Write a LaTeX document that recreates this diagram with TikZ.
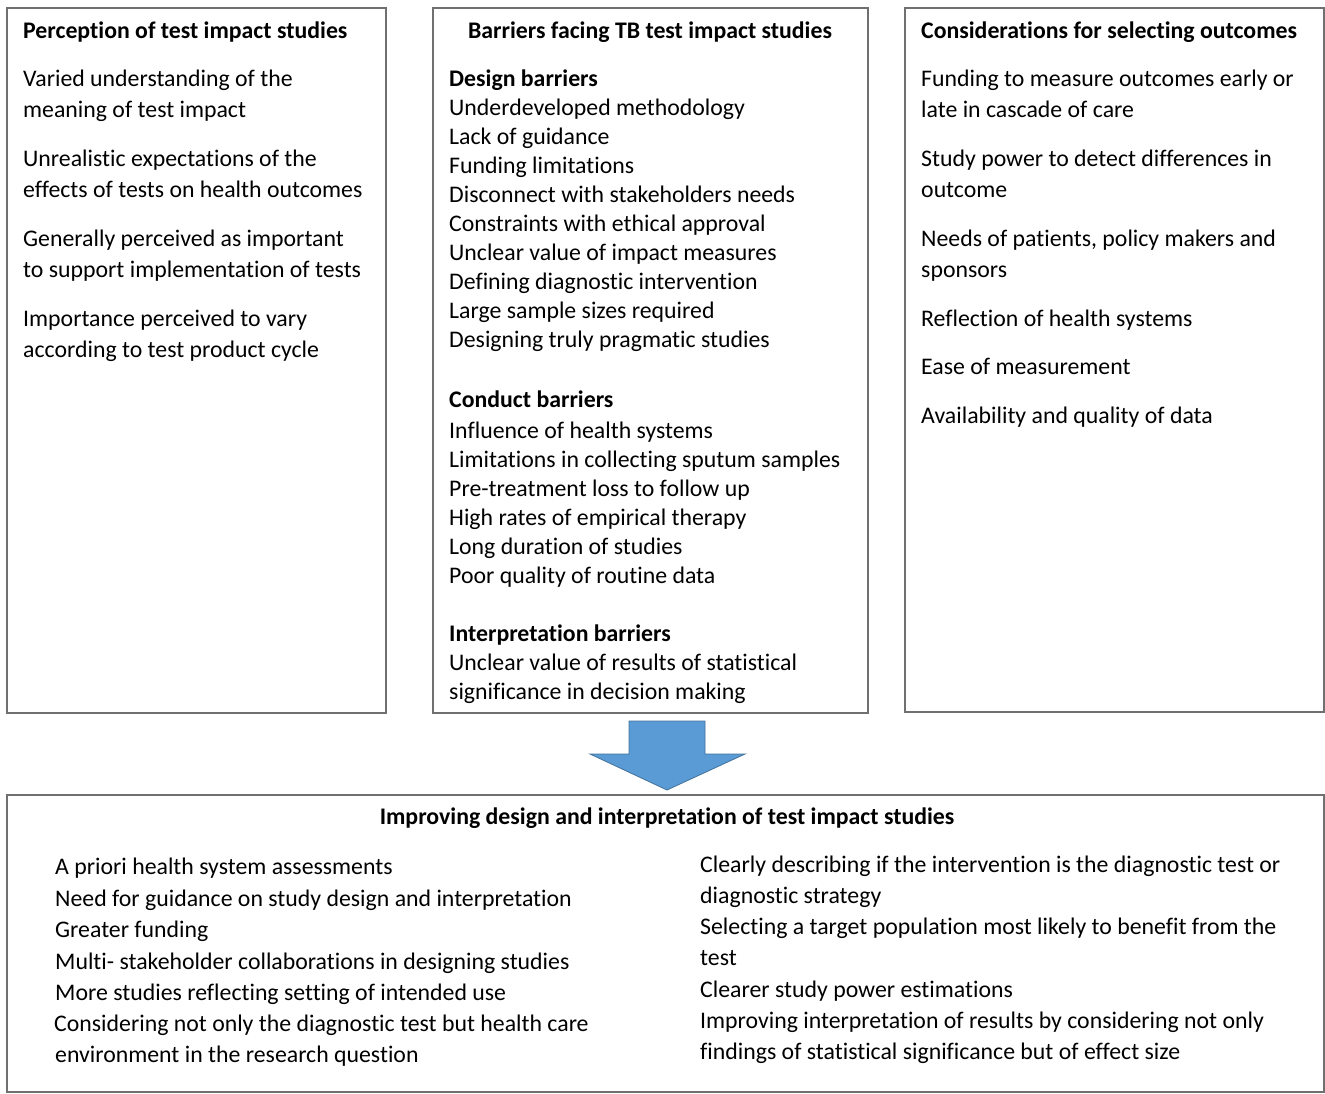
\documentclass[tikz,border=0pt]{standalone}
\usepackage{fontspec}
\setmainfont[Ligatures=NoCommon]{Carlito}
\definecolor{arrfill}{HTML}{5B9BD5}
\definecolor{arrline}{HTML}{41719C}
\definecolor{boxline}{HTML}{707070}
\begin{document}
\begin{tikzpicture}[x=1pt,y=-1pt,
  box/.style={draw=boxline,line width=1.2pt,inner sep=0pt},
  txt/.style={anchor=base west,inner sep=0pt,font=\fontsize{23.8}{28}\selectfont},
  hd/.style={txt,font=\fontsize{23.8}{28}\selectfont\bfseries},
  hdc/.style={anchor=base,inner sep=0pt,font=\fontsize{23.8}{28}\selectfont\bfseries}]
\useasboundingbox (0,0) rectangle (1325,1093);
% boxes
\node[box,minimum width=379pt,minimum height=705pt] (left) at (196.5,360.5) {};
\node[box,minimum width=435pt,minimum height=705pt] (mid) at (650.5,360.5) {};
\node[box,minimum width=419pt,minimum height=704pt] (right) at (1114.5,360) {};
\node[box,minimum width=1317pt,minimum height=297pt] (bottom) at (665.5,943.5) {};
% arrow
\draw[fill=arrfill,draw=arrline,line width=0.8pt] (629,721) -- (705,721) -- (705,754) -- (745,754) -- (667,790) -- (590,754) -- (629,754) -- cycle;
% left box
\node[hd] (l0) at (23,38) {Perception of test impact studies};
\node[txt] (l1) at (23,86) {Varied understanding of the};
\node[txt] (l2) at (23,117) {meaning of test impact};
\node[txt] (l3) at (23,166) {Unrealistic expectations of the};
\node[txt] (l4) at (23,197) {effects of tests on health outcomes};
\node[txt] (l5) at (23,246) {Generally perceived as important};
\node[txt] (l6) at (23,277) {to support implementation of tests};
\node[txt] (l7) at (23,326) {Importance perceived to vary};
\node[txt] (l8) at (23,357) {according to test product cycle};
% middle box
\node[hdc] (m0) at (650,38) {Barriers facing TB test impact studies};
\node[hd] (m1) at (449,86) {Design barriers};
\node[txt] (m2) at (449,115) {Underdeveloped methodology};
\node[txt] (m3) at (449,144) {Lack of guidance};
\node[txt] (m4) at (449,173) {Funding limitations};
\node[txt] (m5) at (449,202) {Disconnect with stakeholders needs};
\node[txt] (m6) at (449,231) {Constraints with ethical approval};
\node[txt] (m7) at (449,260) {Unclear value of impact measures};
\node[txt] (m8) at (449,289) {Defining diagnostic intervention};
\node[txt] (m9) at (449,318) {Large sample sizes required};
\node[txt] (m10) at (449,347) {Designing truly pragmatic studies};
\node[hd] (m11) at (449,407) {Conduct barriers};
\node[txt] (m12) at (449,438) {Influence of health systems};
\node[txt] (m13) at (449,467) {Limitations in collecting sputum samples};
\node[txt] (m14) at (449,496) {Pre-treatment loss to follow up};
\node[txt] (m15) at (449,525) {High rates of empirical therapy};
\node[txt] (m16) at (449,554) {Long duration of studies};
\node[txt] (m17) at (449,583) {Poor quality of routine data};
\node[hd] (m18) at (449,641) {Interpretation barriers};
\node[txt] (m19) at (449,670) {Unclear value of results of statistical};
\node[txt] (m20) at (449,699) {significance in decision making};
% right box
\node[hd] (r0) at (921,38) {Considerations for selecting outcomes};
\node[txt] (r1) at (921,86) {Funding to measure outcomes early or};
\node[txt] (r2) at (921,117) {late in cascade of care};
\node[txt] (r3) at (921,166) {Study power to detect differences in};
\node[txt] (r4) at (921,197) {outcome};
\node[txt] (r5) at (921,246) {Needs of patients, policy makers and};
\node[txt] (r6) at (921,277) {sponsors};
\node[txt] (r7) at (921,326) {Reflection of health systems};
\node[txt] (r8) at (921,374) {Ease of measurement};
\node[txt] (r9) at (921,423) {Availability and quality of data};
% bottom box
\node[hdc] (b0) at (667,824) {Improving design and interpretation of test impact studies};
\node[txt] (b1) at (55,874) {A priori health system assessments};
\node[txt] (b2) at (55,906) {Need for guidance on study design and interpretation};
\node[txt] (b3) at (55,937) {Greater funding};
\node[txt] (b4) at (55,969) {Multi- stakeholder collaborations in designing studies};
\node[txt] (b5) at (55,1000) {More studies reflecting setting of intended use};
\node[txt] (b6) at (54,1031) {Considering not only the diagnostic test but health care};
\node[txt] (b7) at (55,1062) {environment in the research question};
\node[txt] (c1) at (700,872) {Clearly describing if the intervention is the diagnostic test or};
\node[txt] (c2) at (700,903) {diagnostic strategy};
\node[txt] (c3) at (700,934) {Selecting a target population most likely to benefit from the};
\node[txt] (c4) at (700,965) {test};
\node[txt] (c5) at (700,997) {Clearer study power estimations};
\node[txt] (c6) at (700,1028) {Improving interpretation of results by considering not only};
\node[txt] (c7) at (700,1059) {findings of statistical significance but of effect size};
\end{tikzpicture}
\end{document}
